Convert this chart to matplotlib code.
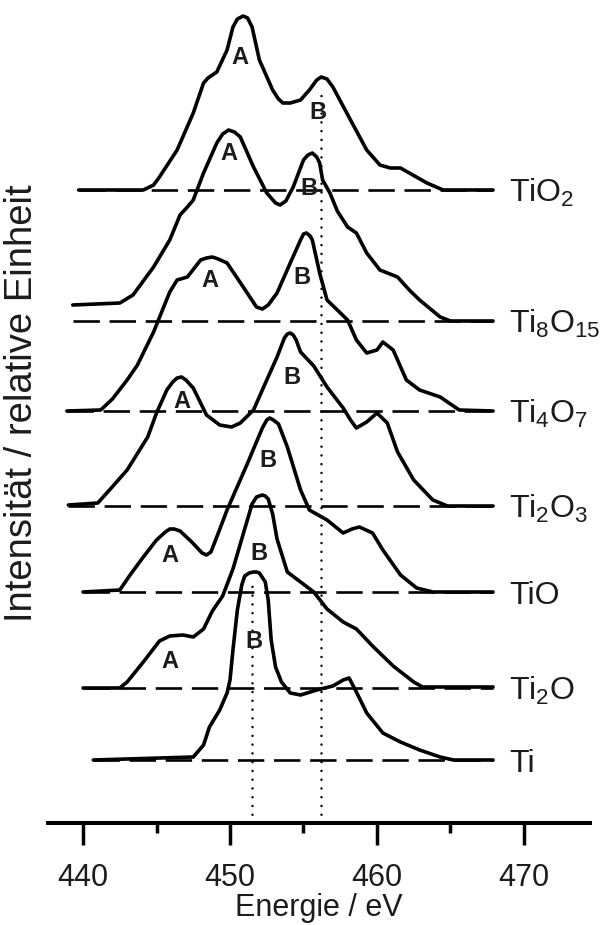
import matplotlib
matplotlib.use('Agg')
import matplotlib.pyplot as plt

plt.rcParams['font.family'] = ['Liberation Sans', 'DejaVu Sans']
plt.rcParams['mathtext.fontset'] = 'custom'
plt.rcParams['mathtext.rm'] = 'Liberation Sans'
plt.rcParams['mathtext.it'] = 'Liberation Sans:italic'
plt.rcParams['mathtext.bf'] = 'Liberation Sans:bold'
plt.rcParams['lines.scale_dashes'] = False

# ---------------- data ----------------
names = ['TiO$_\\mathrm{2}$', 'Ti$_\\mathrm{8}$O$_\\mathrm{15}$', 'Ti$_\\mathrm{4}$O$_\\mathrm{7}$',
         'Ti$_\\mathrm{2}$O$_\\mathrm{3}$', 'TiO', 'Ti$_\\mathrm{2}$O', 'Ti']
offsets = [633, 502, 412, 317, 231, 135, 63]

E_TiO2 = [439.7, 444.1, 444.8, 445.2, 446.4, 447.5, 448.2, 448.5, 449.1, 449.8, 450.2, 450.5, 450.9,
          451.2, 451.5, 452.0, 452.9, 453.3, 453.6, 454.1, 454.8, 455.4, 455.9, 456.2, 456.6, 457.0,
          458.2, 459.3, 460.2, 460.9, 461.6, 462.2, 463.4, 464.5, 467.9]
I_TiO2 = [0, 0, 5, 13, 40, 77, 107, 112, 118, 140, 163, 171, 174, 172, 163, 130, 100, 91, 87, 87, 90,
          100, 110, 113, 111, 103, 70, 40, 25, 22, 22, 17, 7, 0, 0]

E_Ti8O15 = [439.3, 442.5, 443.4, 444.8, 445.9, 446.6, 447.1, 447.5, 448.2, 449.1, 449.5, 449.9, 450.3,
            450.7, 451.6, 452.5, 453.1, 453.4, 453.8, 454.3, 455.0, 455.3, 455.6, 455.9, 456.1, 456.3,
            456.8, 457.3, 458.0, 458.6, 459.3, 460.2, 461.4, 462.2, 462.9, 464.3, 465.0, 467.9]
I_Ti8O15 = [16, 18, 26, 54, 81, 106, 114, 121, 148, 178, 187, 191, 189, 184, 154, 128, 118, 116, 120,
            134, 161, 166, 168, 164, 158, 141, 128, 110, 94, 88, 68, 51, 44, 31, 21, 4, 0, 0]

E_Ti4O7 = [438.9, 441.2, 442.0, 443.0, 443.7, 444.8, 445.9, 446.4, 447.1, 448.0, 448.4, 448.8, 449.2,
           449.8, 450.9, 451.8, 452.2, 452.6, 453.2, 454.1, 454.8, 455.0, 455.2, 455.45, 455.6, 456.1,
           456.6, 457.3, 458.0, 458.6, 459.3, 460.0, 460.4, 461.1, 462.0, 462.9, 464.3, 465.6, 467.9]
I_Ti4O7 = [0, 1, 12, 31, 46, 79, 119, 131, 134, 151, 153, 154, 152, 148, 124, 104, 102, 106, 118, 148,
           171, 177, 178, 175, 171, 138, 111, 101, 91, 71, 58, 61, 69, 61, 31, 21, 14, 1, 0]

E_Ti2O3 = [439.0, 441.0, 441.8, 443.0, 444.4, 445.0, 445.7, 446.1, 446.4, 446.7, 447.0, 447.5, 448.4,
           449.3, 450.1, 450.7, 451.6, 452.2, 453.2, 453.7, 453.9, 454.1, 454.3, 454.5, 454.8, 455.7,
           456.6, 457.7, 458.2, 458.6, 459.3, 460.0, 460.7, 461.4, 462.5, 463.8, 464.8, 467.9]
I_Ti2O3 = [1, 3, 16, 36, 69, 93, 116, 124, 128, 129, 126, 118, 91, 81, 79, 83, 96, 116, 149, 168, 172,
           173, 171, 166, 154, 140, 119, 98, 86, 78, 84, 93, 83, 54, 26, 6, 0, 0]

E_TiO = [440.0, 442.5, 443.2, 444.1, 445.0, 445.6, 445.9, 446.2, 446.6, 447.4, 448.1, 448.4, 448.7,
         449.1, 449.8, 451.2, 452.2, 452.5, 452.7, 452.95, 453.3, 453.9, 454.8, 455.4, 456.6, 457.7,
         458.3, 458.8, 459.7, 460.4, 461.6, 462.7, 463.8, 467.9]
I_TiO = [0, 2, 17, 35, 52, 60, 63, 63, 61, 50, 39, 37, 40, 55, 82, 129, 164, 172, 174, 172, 168, 145,
         102, 82, 72, 59, 63, 65, 59, 42, 17, 4, 0, 0]

E_Ti2O = [440.0, 442.5, 443.0, 444.1, 445.2, 445.9, 446.8, 447.5, 448.2, 448.8, 449.5, 450.2, 450.7,
          451.2, 451.5, 451.8, 452.0, 452.2, 452.4, 452.6, 452.9, 453.2, 453.9, 454.8, 455.7, 456.6,
          457.7, 458.6, 459.7, 461.1, 462.5, 463.1, 467.9]
I_Ti2O = [0, 0, 6, 26, 47, 52, 53, 51, 59, 77, 92, 119, 144, 169, 184, 191, 192, 193, 192, 189, 174,
          149, 116, 106, 96, 79, 66, 59, 42, 22, 6, 1, 1]

E_Ti = [440.7, 447.5, 448.2, 448.6, 449.3, 449.8, 450.0, 450.2, 450.5, 450.8, 451.0, 451.3, 451.6,
        451.8, 452.0, 452.4, 452.6, 452.8, 453.1, 453.5, 454.1, 454.8, 455.9, 457.0, 457.7, 458.1,
        458.6, 459.3, 460.4, 461.6, 462.9, 464.3, 465.2, 467.9]
I_Ti = [0, 3, 15, 33, 50, 67, 80, 110, 150, 175, 184, 187, 188, 188, 187, 178, 160, 120, 93, 78, 67,
        65, 70, 74, 80, 82, 68, 47, 27, 18, 10, 3, 0, 0]

energies = [E_TiO2, E_Ti8O15, E_Ti4O7, E_Ti2O3, E_TiO, E_Ti2O, E_Ti]
intens = [I_TiO2, I_Ti8O15, I_Ti4O7, I_Ti2O3, I_TiO, I_Ti2O, I_Ti]

peak_labels = ['A', 'B', 'A', 'B', 'A', 'B', 'A', 'B', 'A', 'B', 'A', 'B', 'B']
peak_label_E = [450.7, 456.0, 449.9, 455.4, 448.6, 454.9, 446.7, 454.2, 445.9, 452.6, 445.9, 452.0, 451.6]
peak_label_y = [766, 711, 670, 635, 543, 546, 421, 446, 268, 363, 161, 270, 181]

ref_lines_E = [451.5, 456.2]
ref_lines_top = [243, 732]

xticks_major = [440, 450, 460, 470]
xticks_minor = [445, 455, 465]

# ---------------- figure ----------------
fig = plt.figure(figsize=(6.04, 9.25), dpi=100)
ax = fig.add_axes([46 / 604, 102 / 925, 546 / 604, 823 / 925])
ax.set_xlim(437.48, 474.63)
ax.set_ylim(0, 823)

txtc = '#1c1c1c'

for E, I, off, name in zip(energies, intens, offsets, names):
    ax.plot([E[0], E[-1]], [off, off], color='black', lw=1.9,
            linestyle=(0, (19, 7)), zorder=2)
    ax.plot(E, [v + off for v in I], color='black', lw=2.6,
            solid_joinstyle='round', solid_capstyle='round', zorder=3)
    ax.text(469.0, off - 12, name, fontsize=23, color=txtc, ha='left', va='baseline')

for xe, top in zip(ref_lines_E, ref_lines_top):
    ax.plot([xe, xe], [0, top], color='black', lw=1.8, linestyle=(0, (0.01, 6.3)),
            dash_capstyle='round', zorder=4)

for lab, xe, ye in zip(peak_labels, peak_label_E, peak_label_y):
    ax.text(xe, ye, lab, fontsize=17, fontweight='bold', color=txtc,
            ha='center', va='center', zorder=5)

for s in ['left', 'right', 'top']:
    ax.spines[s].set_visible(False)
ax.spines['bottom'].set_linewidth(2.9)
ax.spines['bottom'].set_capstyle('butt')
ax.set_yticks([])
ax.set_xticks(xticks_major)
ax.set_xticks(xticks_minor, minor=True)
ax.tick_params(axis='x', which='major', length=16, width=2.5, direction='out',
               labelsize=22, pad=13, labelcolor=txtc)
ax.tick_params(axis='x', which='minor', length=7, width=2.5, direction='out')
ax.set_xlabel('Energie / eV', fontsize=22, color=txtc, labelpad=0)

fig.text(22 / 604, 1 - 403 / 925, 'Intensität / relative Einheit', rotation=90,
         fontsize=27.5, color=txtc, ha='center', va='center')

fig.savefig('out.png', dpi=100)
